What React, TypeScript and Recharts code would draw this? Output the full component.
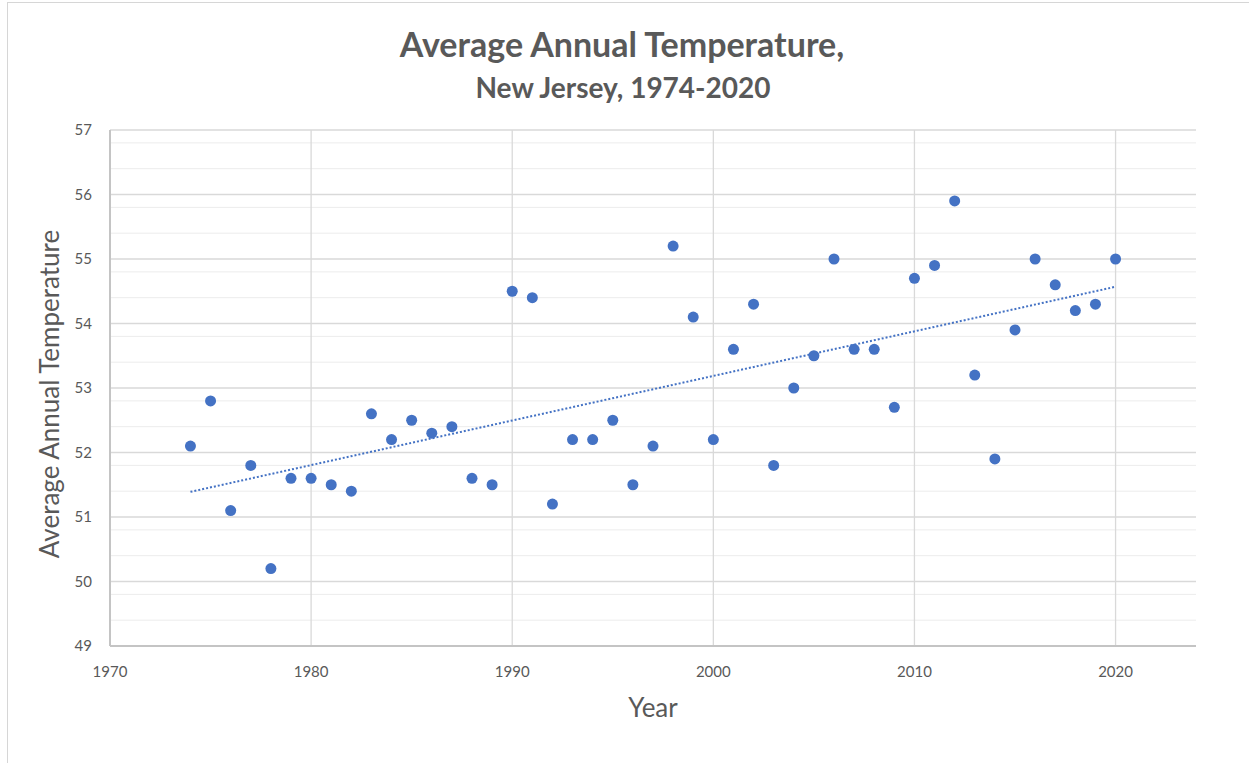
import React from 'react';
import {
  ScatterChart,
  Scatter,
  XAxis,
  YAxis,
  CartesianGrid,
} from 'recharts';

const years = [
  1974, 1975, 1976, 1977, 1978, 1979, 1980, 1981, 1982, 1983, 1984, 1985,
  1986, 1987, 1988, 1989, 1990, 1991, 1992, 1993, 1994, 1995, 1996, 1997,
  1998, 1999, 2000, 2001, 2002, 2003, 2004, 2005, 2006, 2007, 2008, 2009,
  2010, 2011, 2012, 2013, 2014, 2015, 2016, 2017, 2018, 2019, 2020,
];

const temps = [
  52.1, 52.8, 51.1, 51.8, 50.2, 51.6, 51.6, 51.5, 51.4, 52.6, 52.2, 52.5,
  52.3, 52.4, 51.6, 51.5, 54.5, 54.4, 51.2, 52.2, 52.2, 52.5, 51.5, 52.1,
  55.2, 54.1, 52.2, 53.6, 54.3, 51.8, 53.0, 53.5, 55.0, 53.6, 53.6, 52.7,
  54.7, 54.9, 55.9, 53.2, 51.9, 53.9, 55.0, 54.6, 54.2, 54.3, 55.0,
];

// linear trendline end points
const trendYears = [1974, 2020];
const trendTemps = [51.39, 54.57];

const xTicks = [1970, 1980, 1990, 2000, 2010, 2020];
const yTicks = [49, 50, 51, 52, 53, 54, 55, 56, 57];

const points = years.map((year, i) => ({ year, temp: temps[i] }));
const trend = trendYears.map((year, i) => ({ year, temp: trendTemps[i] }));

// minor gridlines every 0.2 between the major ticks
const minorY: number[] = [];
for (let i = 0; i < yTicks.length - 1; i++) {
  for (let k = 1; k < 5; k++) minorY.push(+(yTicks[i] + k * 0.2).toFixed(1));
}

const FONT = 'Lato, "Open Sans", sans-serif';
const GREY = '#595959';
const BLUE = '#4472c4';

const Dot = (props: any) => (
  <circle cx={props.cx} cy={props.cy} r={5.5} fill={BLUE} />
);

export default function App() {
  return (
    <div
      style={{
        position: 'fixed',
        left: 0,
        top: 0,
        width: 1249,
        height: 763,
        background: '#fff',
        fontFamily: FONT,
      }}
    >
      <div
        style={{
          position: 'absolute',
          left: 7,
          top: 2,
          right: 0,
          bottom: 0,
          borderTop: '1px solid #d6d6d6',
          borderLeft: '1px solid #d6d6d6',
        }}
      />
      <ScatterChart
        width={1249}
        height={763}
        margin={{ top: 130, right: 53, bottom: 87, left: 50 }}
        style={{ position: 'absolute', left: 0, top: 0 }}
      >
        <text
          x={622}
          y={57}
          textAnchor="middle"
          fontFamily={FONT}
          fontWeight={700}
          fontSize={34}
          fill={GREY}
        >
          Average Annual Temperature,
        </text>
        <text
          x={623}
          y={98}
          textAnchor="middle"
          fontFamily={FONT}
          fontWeight={700}
          fontSize={28}
          fill={GREY}
        >
          New Jersey, 1974-2020
        </text>
        <CartesianGrid
          horizontalValues={minorY}
          vertical={false}
          stroke="#ececec"
          strokeWidth={1}
        />
        <CartesianGrid
          horizontalValues={yTicks}
          verticalValues={xTicks}
          stroke="#d9d9d9"
          strokeWidth={1.3}
        />
        <XAxis
          type="number"
          dataKey="year"
          domain={[1970, 2024]}
          ticks={xTicks}
          allowDataOverflow
          tickLine={false}
          axisLine={{ stroke: '#c4c4c4', strokeWidth: 2 }}
          tick={{ fill: GREY, fontSize: 15, fontFamily: FONT }}
          tickMargin={14}
          label={{
            value: 'Year',
            position: 'bottom',
            offset: 23,
            fill: GREY,
            fontSize: 26,
            fontFamily: FONT,
          }}
        />
        <YAxis
          type="number"
          dataKey="temp"
          domain={[49, 57]}
          ticks={yTicks}
          width={60}
          tickLine={false}
          axisLine={{ stroke: '#c4c4c4', strokeWidth: 2 }}
          tick={{ fill: GREY, fontSize: 15, fontFamily: FONT }}
          tickMargin={12}
          label={{
            value: 'Average Annual Temperature',
            angle: -90,
            position: 'insideLeft',
            offset: 0,
            dy: 6,
            style: { textAnchor: 'middle' },
            fill: GREY,
            fontSize: 26,
            fontFamily: FONT,
          }}
        />
        <Scatter
          data={trend}
          line={{ stroke: BLUE, strokeWidth: 2, strokeDasharray: '2 2' }}
          shape={() => null}
          isAnimationActive={false}
        />
        <Scatter
          data={points}
          shape={Dot}
          isAnimationActive={false}
        />
      </ScatterChart>
    </div>
  );
}
